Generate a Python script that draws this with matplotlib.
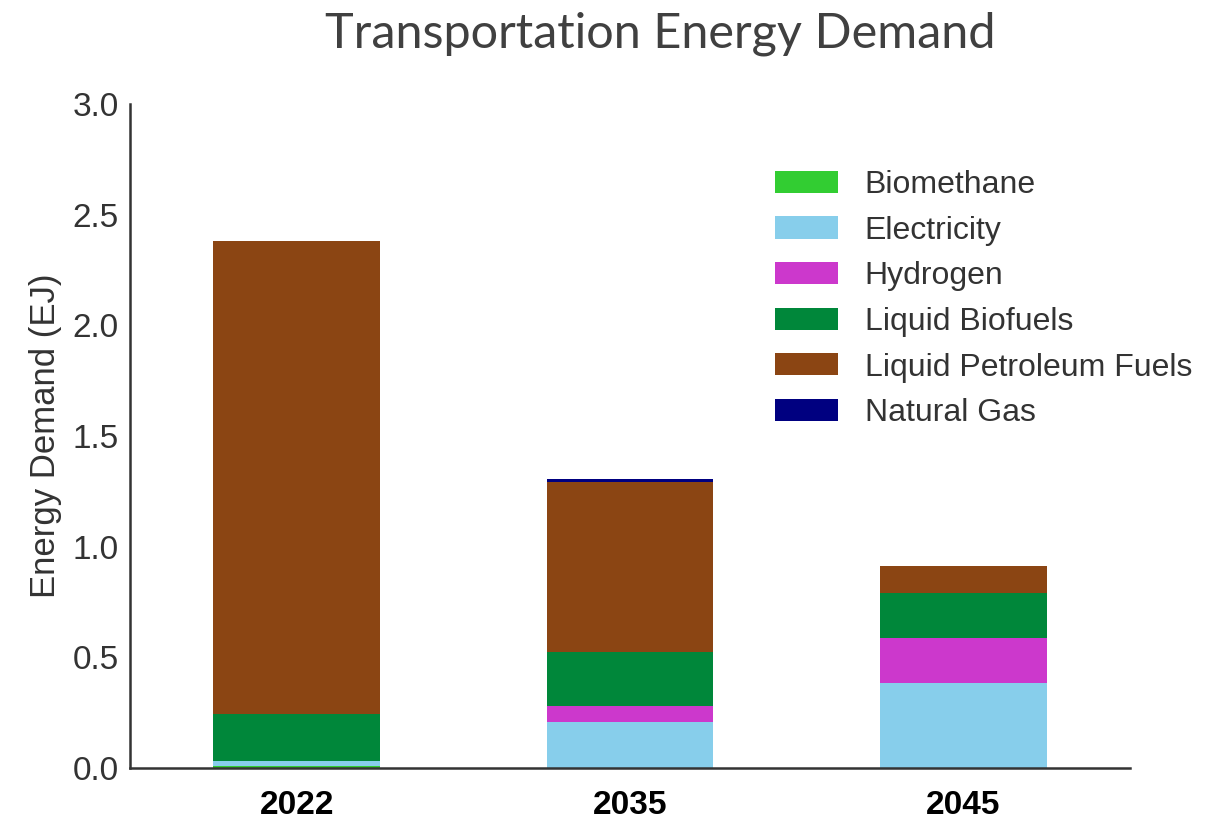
import numpy as np
import matplotlib
matplotlib.use("Agg")
import matplotlib.pyplot as plt

# data (EJ)
years = ["2022", "2035", "2045"]
biomethane = [0.008, 0.0, 0.0]
electricity = [0.025, 0.209, 0.383]
hydrogen = [0.0, 0.073, 0.203]
liquid_biofuels = [0.210, 0.244, 0.206]
liquid_petroleum = [2.138, 0.768, 0.122]
natural_gas = [0.0, 0.012, 0.0]

series = [
    ("Biomethane", biomethane, "#32CD32"),
    ("Electricity", electricity, "#87CEEB"),
    ("Hydrogen", hydrogen, "#CC38CC"),
    ("Liquid Biofuels", liquid_biofuels, "#00873A"),
    ("Liquid Petroleum Fuels", liquid_petroleum, "#8B4513"),
    ("Natural Gas", natural_gas, "#000080"),
]

plt.rcParams["font.family"] = ["Liberation Sans", "DejaVu Sans"]

fig = plt.figure(figsize=(12.14, 8.21), dpi=100)
ax = fig.add_axes([0.1071, 0.0646, 0.8237, 0.8088])

x = np.arange(len(years))
bottom = np.zeros(len(years))
for name, vals, col in series:
    vals = np.array(vals)
    ax.bar(x, vals, width=0.5, bottom=bottom, color=col, label=name, linewidth=0)
    bottom += vals

ax.set_xlim(-0.5, 2.5)
ax.set_ylim(0, 3.0)
ax.set_yticks(np.arange(0, 3.01, 0.5))
ax.set_yticklabels([f"{v:.1f}" for v in np.arange(0, 3.01, 0.5)])
ax.set_xticks(x)
ax.set_xticklabels(years, fontweight="bold", fontsize=24, color="black")
ax.tick_params(axis="y", length=0, pad=8, labelsize=24, labelcolor="#333333")
ax.tick_params(axis="x", length=0, pad=16)

for s in ["top", "right"]:
    ax.spines[s].set_visible(False)
for s in ["left", "bottom"]:
    ax.spines[s].set_color("#333333")
    ax.spines[s].set_linewidth(1.8)

ax.set_ylabel("Energy Demand (EJ)", fontsize=25, color="#333333", labelpad=8)

ax.legend(loc="upper left", bbox_to_anchor=(775 / 1214, 1 - 170 / 821),
          bbox_transform=fig.transFigure, frameon=False, fontsize=23,
          handlelength=1.97, handleheight=0.69, handletextpad=0.84,
          labelspacing=0.49, borderpad=0, borderaxespad=0,
          labelcolor="#333333")

fig.text(0.5437, 1 - 48 / 821, "Transportation Energy Demand",
         family=["Lato", "DejaVu Sans"], fontsize=35, color="#404040",
         ha="center", va="baseline")

fig.savefig("out.png", dpi=100)
